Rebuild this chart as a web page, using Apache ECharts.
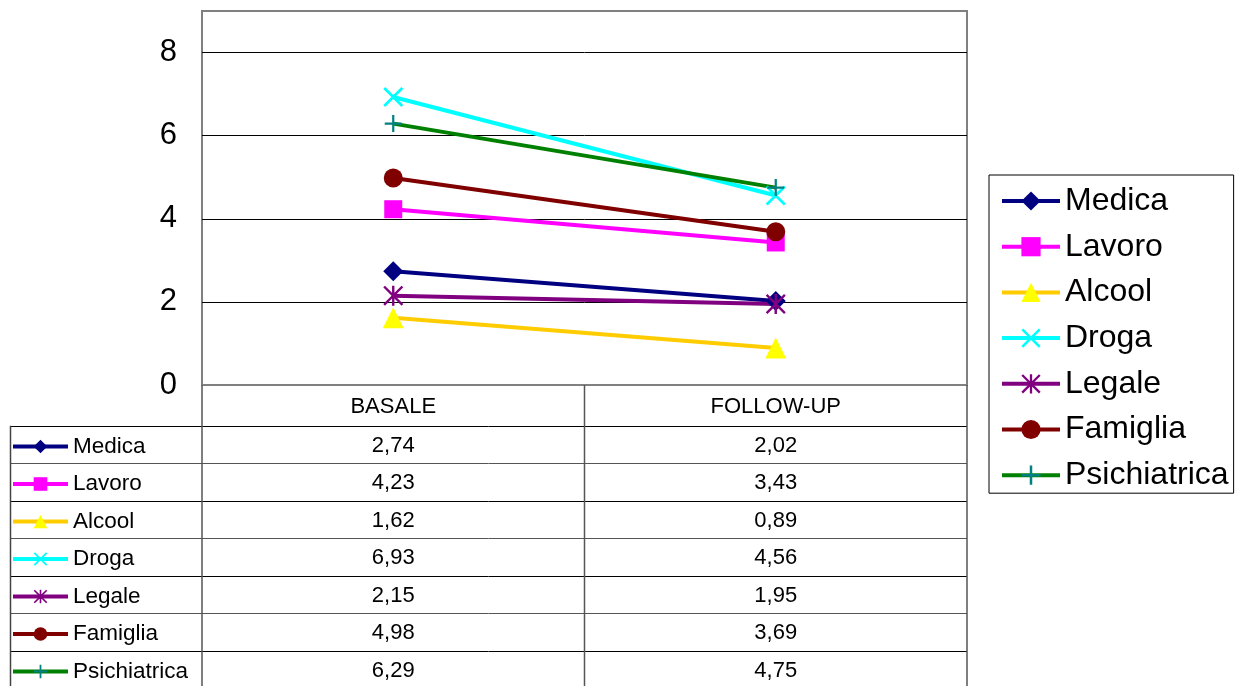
<!DOCTYPE html>
<html><head><meta charset="utf-8">
<script src="https://cdn.jsdelivr.net/npm/echarts@6/dist/echarts.min.js"></script>
<style>html,body{margin:0;padding:0;background:#fff}#c{width:1239px;height:686px}</style>
</head><body><div id="c"></div>
<script>
// ---- data ----
const categories = ['BASALE', 'FOLLOW-UP'];
const seriesNames = ['Medica', 'Lavoro', 'Alcool', 'Droga', 'Legale', 'Famiglia', 'Psichiatrica'];
const medica = [2.74, 2.02];
const lavoro = [4.23, 3.43];
const alcool = [1.62, 0.89];
const droga = [6.93, 4.56];
const legale = [2.15, 1.95];
const famiglia = [4.98, 3.69];
const psichiatrica = [6.29, 4.75];
const yTickLabels = [0, 2, 4, 6, 8];

const seriesValues = [medica, lavoro, alcool, droga, legale, famiglia, psichiatrica];

// ---- styles ----
const FONT = '"Liberation Sans", Arial, sans-serif';
const X_PATH = 'path://M0 1.9L1.9 0L10 8.1L18.1 0L20 1.9L11.9 10L20 18.1L18.1 20L10 11.9L1.9 20L0 18.1L8.1 10Z';
const AST_PATH = 'path://M0 1.7L1.7 0L10 8.3L18.3 0L20 1.7L11.7 10L20 18.3L18.3 20L10 11.7L1.7 20L0 18.3L8.3 10Z M8.8 0L11.2 0L11.2 20L8.8 20Z';
const PLUS_PATH = 'path://M8.7 0L11.3 0L11.3 8.7L20 8.7L20 11.3L11.3 11.3L11.3 20L8.7 20L8.7 11.3L0 11.3L0 8.7L8.7 8.7Z';
const styles = [
  { line: '#000080', mark: '#000080', symbol: 'diamond', size: 20 },
  { line: '#FF00FF', mark: '#FF00FF', symbol: 'rect', size: 18 },
  { line: '#FFCC00', mark: '#FFFF00', symbol: 'triangle', size: 21 },
  { line: '#00FFFF', mark: '#00FFFF', symbol: X_PATH, size: 20 },
  { line: '#800080', mark: '#800080', symbol: AST_PATH, size: 20 },
  { line: '#800000', mark: '#800000', symbol: 'circle', size: 19 },
  { line: '#008000', mark: '#008080', symbol: PLUS_PATH, size: 17 }
];

const chart = echarts.init(document.getElementById('c'));

const series = seriesNames.map((n, i) => ({
  name: n,
  type: 'line',
  data: seriesValues[i],
  symbol: styles[i].symbol,
  symbolSize: styles[i].size,
  itemStyle: { color: styles[i].mark, borderWidth: 0 },
  lineStyle: { color: styles[i].line, width: 4 },
  emphasis: { disabled: true },
  animation: false
}));

chart.setOption({
  animation: false,
  grid: { left: 202, top: 11, width: 765, height: 374, show: true, borderColor: '#808080', borderWidth: 2 },
  xAxis: {
    type: 'category', data: categories, boundaryGap: true,
    axisLine: { show: false }, axisTick: { show: false },
    axisLabel: { margin: 11, fontSize: 22, fontFamily: FONT, color: '#000' }
  },
  yAxis: {
    type: 'value', min: 0, max: 9, interval: 2,
    axisLine: { show: false }, axisTick: { show: false },
    axisLabel: {
      margin: 25, fontSize: 31, fontFamily: FONT, color: '#000',
      formatter: v => (yTickLabels.indexOf(v) >= 0 ? String(v) : ''),
      showMaxLabel: false
    },
    splitLine: { lineStyle: { color: ['#808080', '#000', '#000', '#000', '#000', '#808080'], width: 1 } }
  },
  legend: [
    {
      orient: 'vertical', left: 989, top: 175,
      data: seriesNames, selectedMode: false,
      itemWidth: 58, itemHeight: 24, itemGap: 10.7,
      padding: [8.5, 5, 0.5, 11],
      borderColor: '#000', borderWidth: 1,
      textStyle: { fontSize: 32, fontFamily: FONT, color: '#000', lineHeight: 35 },
      lineStyle: { width: 4 }, itemStyle: { borderWidth: 0 }
    },
    {
      orient: 'vertical', left: 11, top: 433.5,
      data: seriesNames, selectedMode: false,
      itemWidth: 55, itemHeight: 17, itemGap: 11.5,
      padding: 0,
      textStyle: { fontSize: 22.5, fontFamily: FONT, color: '#000', lineHeight: 26 },
      lineStyle: { width: 4 }, itemStyle: { borderWidth: 0 }
    }
  ],
  series: series
});

// ---- data table built from the axes' pixel positions ----
function buildTable() {
  const cx = categories.map(c => chart.convertToPixel({ xAxisIndex: 0 }, c));
  const band = cx[1] - cx[0];
  const colEdges = [cx[0] - band / 2, (cx[0] + cx[1]) / 2, cx[cx.length - 1] + band / 2];
  const yBase = chart.convertToPixel({ yAxisIndex: 0 }, 0);
  const headerH = 40.7, rowH = 37.5, tableLeft = 10, bottom = 700;
  const els = [];
  const lineEl = (x1, y1, x2, y2, color, w) => ({
    type: 'line', silent: true, z: 10,
    shape: { x1, y1, x2, y2 },
    style: { stroke: color, lineWidth: w }
  });
  // horizontal lines
  for (let i = 0; i <= seriesNames.length; i++) {
    const y = Math.round(yBase + headerH + i * rowH) + 0.5;
    els.push(lineEl(tableLeft, y, colEdges[2], y, i % 2 === 0 ? '#000' : '#555', 1));
  }
  // vertical lines
  els.push(lineEl(tableLeft + 0.5, yBase + headerH, tableLeft + 0.5, bottom, '#444', 1.5));
  colEdges.forEach(x => els.push(lineEl(x, yBase, x, bottom, '#555', 1.5)));
  // values
  seriesValues.forEach((vals, r) => {
    vals.forEach((v, c) => {
      els.push({
        type: 'text', silent: true, z: 10,
        style: {
          text: v.toFixed(2).replace('.', ','),
          x: cx[c], y: yBase + headerH + r * rowH + rowH / 2 + 1,
          align: 'center', verticalAlign: 'middle',
          textAlign: 'center', textVerticalAlign: 'middle',
          fontSize: 22, fontFamily: FONT, fill: '#000'
        }
      });
    });
  });
  chart.setOption({ graphic: els });
}
buildTable();
</script>
</body></html>
